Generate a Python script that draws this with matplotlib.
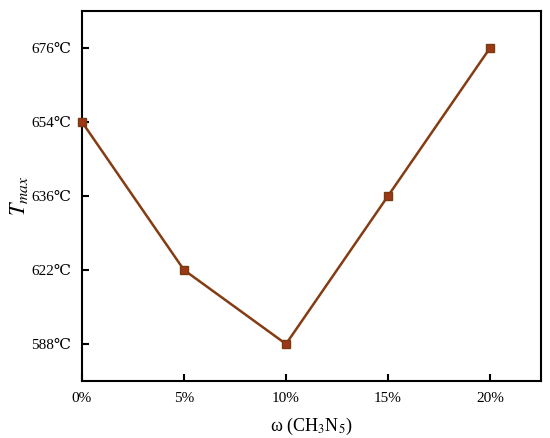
import numpy as np
import matplotlib
matplotlib.use("Agg")
import matplotlib.pyplot as plt

plt.rcParams['font.family'] = ['Liberation Serif', 'DejaVu Serif']
plt.rcParams['mathtext.fontset'] = 'stix'

# data
omega = [0, 5, 10, 15, 20]
tmax = [654, 622, 588, 636, 676]
y_levels = [588, 622, 636, 654, 676]  # equally spaced on the axis
x_ticks = [0, 5, 10, 15, 20]
x_labels = ['0%', '5%', '10%', '15%', '20%']
y_labels = [str(v) + '℃' for v in y_levels]

y_pos = [y_levels.index(v) for v in tmax]

fig = plt.figure(figsize=(5.5, 4.38), dpi=100)
ax = fig.add_axes([82/550, 1 - 381/438, (541-82)/550, (381-11)/438])

ax.plot(omega, y_pos, color='#843C12', linewidth=1.8, marker='s',
        markersize=5.5, markerfacecolor='#9C3816', markeredgecolor='#7A3A10',
        clip_on=False, zorder=3)

ax.set_xlim(0, 22.5)
ax.set_ylim(-0.5, 4.5)
ax.set_xticks(x_ticks)
ax.set_xticklabels(x_labels)
ax.set_yticks(range(len(y_levels)))
ax.set_yticklabels(y_labels)
ax.tick_params(direction='in', length=5, width=1.5, labelsize=11, pad=8)
for s in ax.spines.values():
    s.set_linewidth(1.5)

ax.set_xlabel('ω (CH$_3$N$_5$)', fontsize=13, labelpad=8)
ax.set_ylabel('$T_{max}$', fontsize=16, labelpad=1)

fig.savefig('out.png', dpi=100)
